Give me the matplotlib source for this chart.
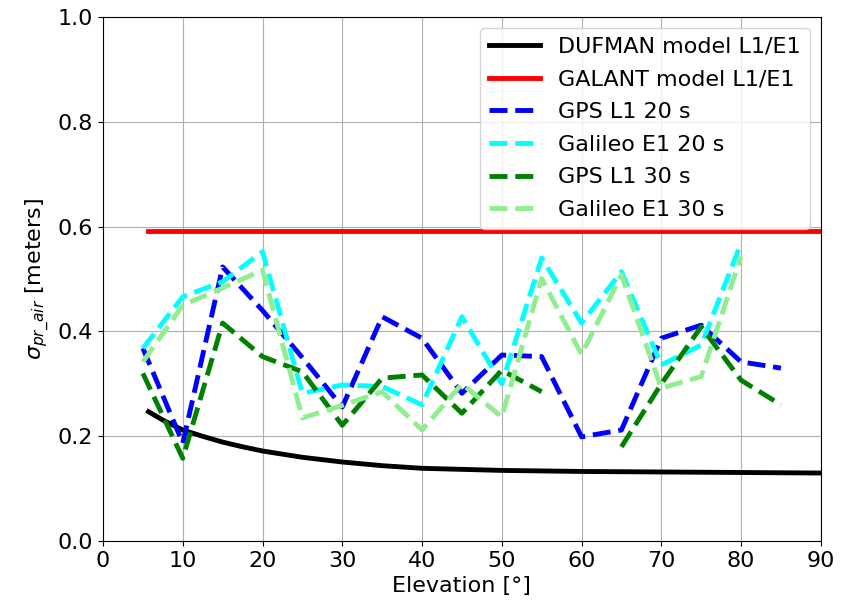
import numpy as np
import matplotlib
matplotlib.use('Agg')
import matplotlib.pyplot as plt

# elevation bins for the measured series
elev = [5, 10, 15, 20, 25, 30, 35, 40, 45, 50, 55, 60, 65, 70, 75, 80, 85]

gps_20 = [0.368, 0.187, 0.523, 0.440, 0.350, 0.256, 0.428, 0.387, 0.282, 0.355,
          0.352, 0.199, 0.212, 0.387, 0.412, 0.342, 0.330]
gal_20 = [0.368, 0.466, 0.495, 0.552, 0.282, 0.298, 0.295, 0.260, 0.428, 0.300,
          0.540, 0.416, 0.514, 0.336, 0.374, 0.568, np.nan]
gps_30 = [0.320, 0.158, 0.416, 0.352, 0.323, 0.221, 0.311, 0.317, 0.244, 0.326,
          0.285, np.nan, 0.180, 0.300, 0.409, 0.307, 0.260]
gal_30 = [0.342, 0.450, 0.483, 0.517, 0.235, 0.259, 0.285, 0.212, 0.300, 0.237,
          0.501, 0.356, 0.508, 0.292, 0.314, 0.543, np.nan]

# model curves
model_elev = [5.7, 7.5, 10, 12.5, 15, 17.5, 20, 22.5, 25, 30, 35, 40, 50, 60, 70, 80, 90]
dufman = [0.247, 0.231, 0.212, 0.200, 0.189, 0.180, 0.172, 0.166, 0.160, 0.151,
          0.144, 0.139, 0.135, 0.133, 0.132, 0.131, 0.130]
galant = [0.592] * len(model_elev)

plt.rcParams['font.size'] = 16

fig, ax = plt.subplots(figsize=(8.41, 6), dpi=100)
fig.subplots_adjust(left=0.1225, right=0.976, top=0.972, bottom=0.098)

lw = 3.5
ax.plot(model_elev, dufman, color='black', lw=lw, label='DUFMAN model L1/E1')
ax.plot(model_elev, galant, color='red', lw=lw, label='GALANT model L1/E1')
ax.plot(elev, gps_20, color='blue', lw=lw, ls='--', label='GPS L1 20 s')
ax.plot(elev, gal_20, color='cyan', lw=lw, ls='--', label='Galileo E1 20 s')
ax.plot(elev, gps_30, color='green', lw=lw, ls='--', label='GPS L1 30 s')
ax.plot(elev, gal_30, color='lightgreen', lw=lw, ls='--', label='Galileo E1 30 s')

ax.set_xlim(0, 90)
ax.set_ylim(0, 1)
ax.set_xticks(range(0, 91, 10))
ax.set_xlabel('Elevation [°]')
ax.set_ylabel(r'$\sigma_{pr\_air}$ [meters]')
ax.grid(True)
ax.legend(loc='upper right', handlelength=2.3, labelspacing=0.57)

plt.savefig('out.png')
